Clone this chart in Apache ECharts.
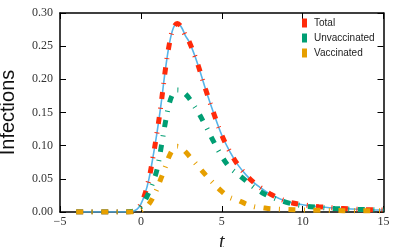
<!DOCTYPE html>
<html>
<head>
<meta charset="utf-8">
<script src="https://cdn.jsdelivr.net/npm/echarts@6/dist/echarts.min.js"></script>
<style>html,body{margin:0;padding:0;background:#fff;}#c{width:400px;height:247px;}</style>
</head>
<body>
<div id="c"></div>
<script>
const tValues = [-4,-2,-1,-0.5,-0.25,0,0.25,0.5,0.75,1,1.25,1.5,1.75,2,2.25,2.5,2.75,3,3.5,4,4.5,5,5.5,6,6.5,7,7.5,8,9,10,11,12,13,14,15];
const totalValues = [0,0,0,0.001,0.004,0.012,0.027,0.05,0.083,0.12,0.163,0.212,0.252,0.277,0.284,0.279,0.266,0.256,0.224,0.185,0.149,0.116,0.091,0.071,0.056,0.044,0.035,0.027,0.016,0.011,0.008,0.006,0.0045,0.0035,0.003];
const unvaccinatedValues = [0,0,0,0.001,0.003,0.008,0.017,0.03,0.045,0.064,0.097,0.133,0.163,0.179,0.184,0.183,0.178,0.171,0.152,0.13,0.106,0.084,0.067,0.057,0.047,0.037,0.029,0.023,0.0145,0.0095,0.007,0.0052,0.0042,0.0035,0.003];
const vaccinatedValues = [0,0,0,0,0.001,0.002,0.006,0.012,0.022,0.035,0.051,0.067,0.084,0.095,0.099,0.097,0.091,0.084,0.07,0.056,0.043,0.031,0.022,0.018,0.012,0.008,0.0065,0.005,0.0038,0.003,0.0025,0.0022,0.002,0.002,0.002];
const seriesNames = ['Total','Unvaccinated','Vaccinated'];
const xTicks = [-5,0,5,10,15];
const yTicks = [0,0.05,0.10,0.15,0.20,0.25,0.30];

const pairs = v => tValues.map((t,i)=>[t,v[i]]);
const dash = [7,8.5,1,8.5];
const colors = ['#ff2a0a','#009e73','#e69f00'];
const serifFont = 'Liberation Serif';

const tickStyle = {inside:true,length:6,lineStyle:{color:'#000',width:1}};
const lineStyle = {onZero:false,lineStyle:{color:'#000',width:1.5}};
const baseX = {type:'value',min:xTicks[0],max:xTicks[xTicks.length-1],interval:5,splitLine:{show:false},axisLine:lineStyle,axisTick:tickStyle};
const baseY = {type:'value',min:yTicks[0],max:yTicks[yTicks.length-1],interval:0.05,splitLine:{show:false},axisLine:lineStyle,axisTick:tickStyle};

const chart = echarts.init(document.getElementById('c'),null,{renderer:'canvas'});
chart.setOption({
  animation:false,
  grid:{left:60,right:16.5,top:13,bottom:35,containLabel:false,outerBoundsMode:'none'},
  legend:{
    data:seriesNames, orient:'vertical', left:302, top:18, icon:'rect',
    itemWidth:5, itemHeight:9, itemGap:5, padding:0,
    textStyle:{fontFamily:'Liberation Sans',fontSize:10,color:'#222',padding:[0,0,0,2]}
  },
  xAxis:[
    Object.assign({},baseX,{position:'bottom',
      axisLabel:{fontFamily:serifFont,fontSize:12,color:'#333',margin:4,formatter:v=>String(v).replace('-','\u2212')},
      name:'t',nameLocation:'middle',nameGap:15,
      nameTextStyle:{fontFamily:serifFont,fontStyle:'italic',fontSize:20,color:'#222'}}),
    Object.assign({},baseX,{position:'top',axisLabel:{show:false}})
  ],
  yAxis:[
    Object.assign({},baseY,{position:'left',
      axisLabel:{fontFamily:serifFont,fontSize:12,color:'#333',margin:7,formatter:v=>v.toFixed(2)},
      name:'Infections',nameLocation:'middle',nameGap:42,
      nameTextStyle:{fontFamily:'Liberation Sans',fontSize:20,color:'#111'}}),
    Object.assign({},baseY,{position:'right',axisLabel:{show:false}})
  ],
  series:[
    {type:'line',name:'_curve',data:pairs(totalValues),showSymbol:false,symbol:'none',smooth:0.35,
      lineStyle:{color:'#56b4e9',width:1.6},z:2},
    {type:'line',name:seriesNames[0],data:pairs(totalValues),showSymbol:false,symbol:'none',smooth:0.35,
      itemStyle:{color:colors[0]},lineStyle:{color:colors[0],width:5,type:dash,cap:'butt'},z:3},
    {type:'line',name:seriesNames[1],data:pairs(unvaccinatedValues),showSymbol:false,symbol:'none',smooth:0.35,
      itemStyle:{color:colors[1]},lineStyle:{color:colors[1],width:5,type:dash,cap:'butt'},z:4},
    {type:'line',name:seriesNames[2],data:pairs(vaccinatedValues),showSymbol:false,symbol:'none',smooth:0.35,
      itemStyle:{color:colors[2]},lineStyle:{color:colors[2],width:5,type:dash,cap:'butt'},z:5}
  ]
});
</script>
</body>
</html>
